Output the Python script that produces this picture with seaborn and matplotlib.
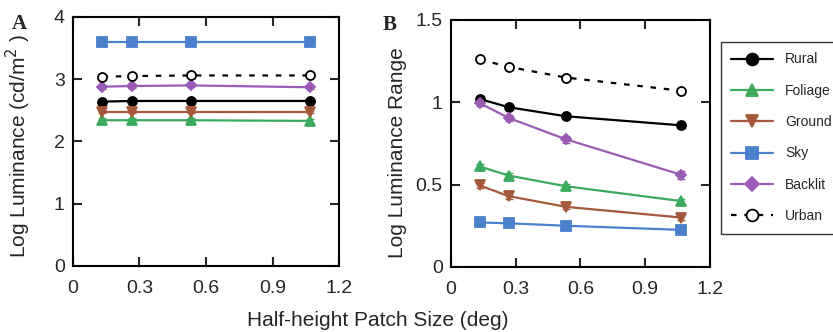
import numpy as np
import pandas as pd
import matplotlib
matplotlib.use("Agg")
import matplotlib.pyplot as plt
import seaborn as sns
from matplotlib.lines import Line2D

# patch sizes (deg)
patch_size = [0.133, 0.267, 0.533, 1.067]
categories = ["Rural", "Foliage", "Ground", "Sky", "Backlit", "Urban"]

# Panel A: mean log luminance
lum_rural = [2.64, 2.65, 2.65, 2.65]
lum_foliage = [2.34, 2.34, 2.34, 2.33]
lum_ground = [2.48, 2.48, 2.48, 2.48]
lum_sky = [3.60, 3.60, 3.60, 3.60]
lum_backlit = [2.88, 2.89, 2.90, 2.87]
lum_urban = [3.04, 3.05, 3.06, 3.06]
lum_err = [0.03, 0.03, 0.03, 0.03]

# Panel B: log luminance range
rng_rural = [1.02, 0.97, 0.915, 0.86]
rng_foliage = [0.61, 0.555, 0.49, 0.40]
rng_ground = [0.495, 0.43, 0.365, 0.30]
rng_sky = [0.27, 0.265, 0.25, 0.225]
rng_backlit = [0.995, 0.905, 0.775, 0.56]
rng_urban = [1.26, 1.215, 1.15, 1.07]
rng_err_rural = [0.01, 0.01, 0.012, 0.015]
rng_err_foliage = [0.015, 0.015, 0.012, 0.015]
rng_err_ground = [0.015, 0.015, 0.015, 0.015]
rng_err_sky = [0.01, 0.01, 0.01, 0.01]
rng_err_backlit = [0.02, 0.02, 0.02, 0.025]
rng_err_urban = [0.01, 0.01, 0.01, 0.01]

lum = dict(zip(categories, [lum_rural, lum_foliage, lum_ground, lum_sky, lum_backlit, lum_urban]))
rng = dict(zip(categories, [rng_rural, rng_foliage, rng_ground, rng_sky, rng_backlit, rng_urban]))
rng_err = dict(zip(categories, [rng_err_rural, rng_err_foliage, rng_err_ground,
                                rng_err_sky, rng_err_backlit, rng_err_urban]))

colors = {"Rural": "black", "Foliage": "#3BAA5C", "Ground": "#A5583A",
          "Sky": "#4A80CC", "Backlit": "#9B5BB5", "Urban": "black"}
markers = {"Rural": "o", "Foliage": "^", "Ground": "v", "Sky": "s", "Backlit": "D", "Urban": "o"}
msizes = {"Rural": 6.5, "Foliage": 6.5, "Ground": 6.5, "Sky": 6.5, "Backlit": 5.5, "Urban": 6.5}
DASH = (0, (2.5, 3.5))

sns.set_style("white")
plt.rcParams["font.family"] = ["Liberation Sans", "DejaVu Sans"]

fig = plt.figure(figsize=(8.33, 3.32), dpi=100)
axA = fig.add_axes([0.0876, 0.199, 0.3194, 0.750])
axB = fig.add_axes([0.5414, 0.196, 0.3106, 0.744])


def draw(ax, values, errors):
    for cat in categories:
        df = pd.DataFrame({"x": patch_size, "y": values[cat]})
        ls = DASH if cat == "Urban" else "-"
        mfc = "white" if cat == "Urban" else colors[cat]
        ax.errorbar(df["x"], df["y"], yerr=errors[cat], fmt="none",
                    ecolor=colors[cat], elinewidth=1.3, capsize=3, zorder=2)
        sns.lineplot(data=df, x="x", y="y", ax=ax, color=colors[cat],
                     linestyle=ls, linewidth=1.6, marker=markers[cat],
                     markersize=msizes[cat], markerfacecolor=mfc,
                     markeredgecolor=colors[cat], markeredgewidth=1.3, zorder=3)


draw(axA, lum, {c: lum_err for c in categories})
draw(axB, rng, rng_err)

for ax in (axA, axB):
    ax.set_xlim(0, 1.2)
    ax.set_xticks([0, 0.3, 0.6, 0.9, 1.2])
    ax.set_xticklabels(["0", "0.3", "0.6", "0.9", "1.2"])
    ax.tick_params(direction="in", length=6.5, width=1.5, labelsize=14,
                   top=True, right=True, bottom=True, left=True)
    ax.tick_params(axis="x", pad=10)
    ax.tick_params(axis="y", pad=6)
    ax.set_xlabel("")
    for s in ax.spines.values():
        s.set_linewidth(1.5)
        s.set_color("black")

axA.set_ylim(0, 4)
axA.set_yticks([0, 1, 2, 3, 4])
axA.set_ylabel("Log Luminance (cd/m$^2$ )", fontsize=15)
axA.yaxis.set_label_coords(-0.15, 0.484)
axB.set_ylim(0, 1.5)
axB.set_yticks([0, 0.5, 1, 1.5])
axB.set_yticklabels(["0", "0.5", "1", "1.5"])
axB.set_ylabel("Log Luminance Range", fontsize=15)
axB.yaxis.set_label_coords(-0.17, 0.464)

fig.text(0.0144, 0.913, "A", fontsize=15, fontweight="bold", va="baseline",
         family=["Liberation Serif", "DejaVu Serif"])
fig.text(0.4598, 0.91, "B", fontsize=15, fontweight="bold", va="baseline",
         family=["Liberation Serif", "DejaVu Serif"])
fig.text(0.454, 0.035, "Half-height Patch Size (deg)", fontsize=15,
         ha="center", va="center")

handles = []
for cat in categories:
    ls = DASH if cat == "Urban" else "-"
    mfc = "white" if cat == "Urban" else colors[cat]
    handles.append(Line2D([], [], color=colors[cat], linestyle=ls, linewidth=1.6,
                          marker=markers[cat], markersize=msizes[cat] + 2,
                          markerfacecolor=mfc, markeredgecolor=colors[cat],
                          markeredgewidth=1.3, label=cat))
leg = fig.legend(handles=handles, loc="upper left", bbox_to_anchor=(0.8655, 0.8735),
                 borderaxespad=0, frameon=True, fancybox=False, edgecolor="black",
                 fontsize=10, handlelength=3.0, labelspacing=1.25, borderpad=0.75,
                 handletextpad=0.85)
leg.get_frame().set_linewidth(1.0)

fig.savefig("out.png", dpi=100)
